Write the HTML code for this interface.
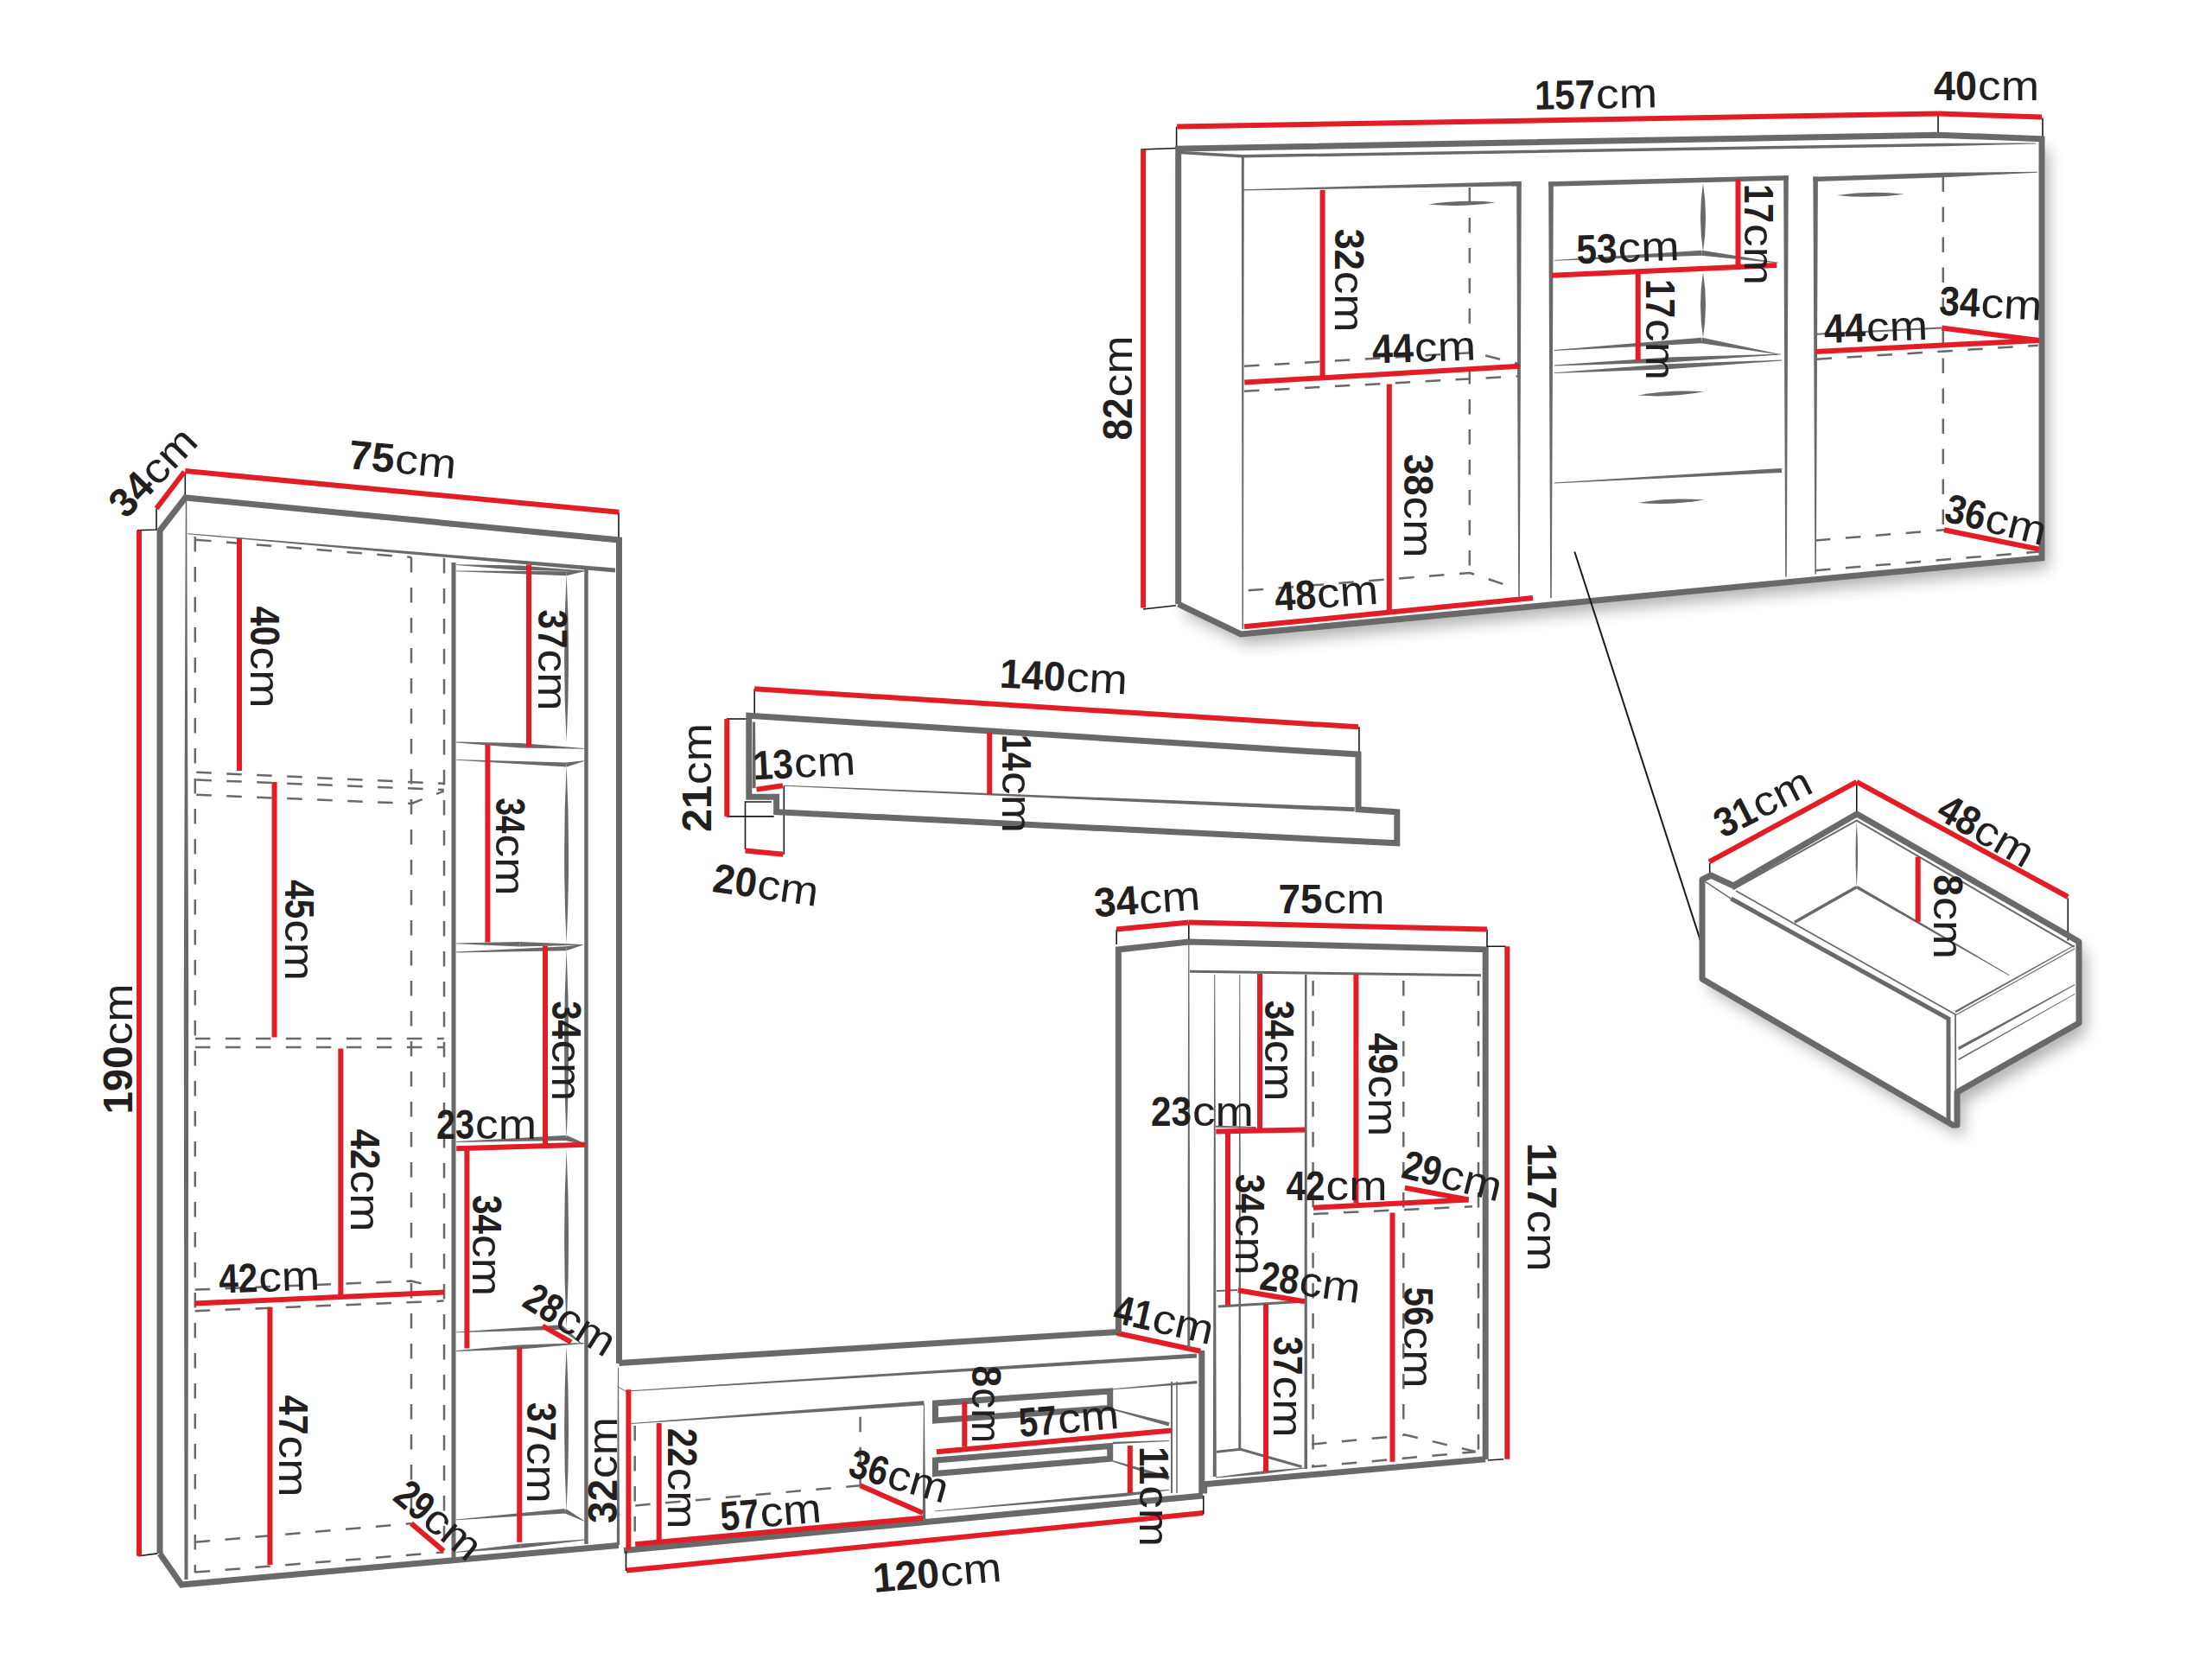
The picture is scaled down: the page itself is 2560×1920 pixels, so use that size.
<!DOCTYPE html>
<html><head><meta charset="utf-8"><style>
html,body{margin:0;padding:0;background:#fff;}
svg{display:block}
text{font-family:"Liberation Sans",sans-serif;fill:#231f20;}
</style></head><body>
<svg width="2560" height="1920" viewBox="0 0 2560 1920">
<rect width="2560" height="1920" fill="#fff"/>
<defs><filter id="sh" x="-20%" y="-20%" width="140%" height="140%"><feGaussianBlur stdDeviation="9"/></filter></defs>
<polygon points="1363.7,172.1 2243.0,156.2 2363.0,160.8 2363.0,645.7 1436.0,734.0 1363.7,699.2" transform="translate(8,12)" fill="#000" opacity="0.3" filter="url(#sh)"/>
<polygon points="1363.7,172.1 2243.0,156.2 2363.0,160.8 2363.0,645.7 1436.0,734.0 1363.7,699.2" fill="#fff"/>
<polygon points="1970.0,1018.0 1980.0,1013.0 2006.0,1025.0 2149.0,942.0 2396.0,1084.0 2406.0,1090.0 2406.0,1184.0 2265.0,1264.0 2265.0,1302.0 2260.0,1302.0 1970.0,1133.0" transform="translate(8,12)" fill="#000" opacity="0.3" filter="url(#sh)"/>
<polygon points="1970.0,1018.0 1980.0,1013.0 2006.0,1025.0 2149.0,942.0 2396.0,1084.0 2406.0,1090.0 2406.0,1184.0 2265.0,1264.0 2265.0,1302.0 2260.0,1302.0 1970.0,1133.0" fill="#fff"/>
<polyline points="214.3,546.5 214.3,575.5" fill="none" stroke="#1a1a1a" stroke-width="1.6" stroke-linejoin="miter" stroke-miterlimit="10" />
<polyline points="716.0,593.0 716.0,622.0" fill="none" stroke="#1a1a1a" stroke-width="1.6" stroke-linejoin="miter" stroke-miterlimit="10" />
<polyline points="181.0,588.5 181.0,613.0 159.0,613.7" fill="none" stroke="#1a1a1a" stroke-width="1.6" stroke-linejoin="miter" stroke-miterlimit="10" />
<polyline points="160.5,1800.8 182.2,1797.9" fill="none" stroke="#1a1a1a" stroke-width="1.6" stroke-linejoin="miter" stroke-miterlimit="10" />
<polyline points="185.0,1798.0 185.0,614.0 214.5,576.0 716.5,625.0 716.5,1578.0" fill="none" stroke="#696969" stroke-width="7" stroke-linejoin="miter" stroke-miterlimit="10" />
<polyline points="185.0,1798.0 210.0,1834.0 716.0,1788.5" fill="none" stroke="#696969" stroke-width="7" stroke-linejoin="miter" stroke-miterlimit="10" />
<polygon points="217.0,618.2 711.8,662.5 712.2,657.5 217.0,617.2" fill="#696969"/>
<polygon points="214.8,578.0 212.8,1150.0 218.2,1150.0 216.2,578.0" fill="#696969"/>
<polygon points="212.8,1150.0 213.5,1828.0 217.5,1828.0 218.2,1150.0" fill="#696969"/>
<polyline points="225.8,621.0 225.8,1820.0" fill="none" stroke="#696969" stroke-width="2.5" stroke-linejoin="miter" stroke-miterlimit="10" stroke-dasharray="17.5 17.5" stroke-linecap="butt"/>
<polyline points="476.0,645.0 476.0,1763.0" fill="none" stroke="#696969" stroke-width="2.5" stroke-linejoin="miter" stroke-miterlimit="10" stroke-dasharray="17.5 17.5" stroke-linecap="butt"/>
<polyline points="514.0,646.0 514.0,1796.0" fill="none" stroke="#696969" stroke-width="2.5" stroke-linejoin="miter" stroke-miterlimit="10" stroke-dasharray="17.5 17.5" stroke-linecap="butt"/>
<polyline points="227.0,624.7 476.0,645.0" fill="none" stroke="#696969" stroke-width="2.5" stroke-linejoin="miter" stroke-miterlimit="10" stroke-dasharray="17.5 17.5" stroke-linecap="butt"/>
<polyline points="227.3,893.8 513.8,906.8" fill="none" stroke="#696969" stroke-width="2.5" stroke-linejoin="miter" stroke-miterlimit="10" stroke-dasharray="17.5 17.5" stroke-linecap="butt"/>
<polyline points="227.3,902.5 513.8,914.0" fill="none" stroke="#696969" stroke-width="2.5" stroke-linejoin="miter" stroke-miterlimit="10" stroke-dasharray="17.5 17.5" stroke-linecap="butt"/>
<polyline points="227.3,919.8 476.2,930.0 513.8,915.5" fill="none" stroke="#696969" stroke-width="2.5" stroke-linejoin="miter" stroke-miterlimit="10" stroke-dasharray="17.5 17.5" stroke-linecap="butt"/>
<polyline points="225.9,1201.9 513.8,1201.9" fill="none" stroke="#696969" stroke-width="2.5" stroke-linejoin="miter" stroke-miterlimit="10" stroke-dasharray="17.5 17.5" stroke-linecap="butt"/>
<polyline points="225.9,1212.0 513.8,1212.0" fill="none" stroke="#696969" stroke-width="2.5" stroke-linejoin="miter" stroke-miterlimit="10" stroke-dasharray="17.5 17.5" stroke-linecap="butt"/>
<polyline points="225.6,1492.6 476.0,1482.5 487.5,1485.4" fill="none" stroke="#696969" stroke-width="2.5" stroke-linejoin="miter" stroke-miterlimit="10" stroke-dasharray="17.5 17.5" stroke-linecap="butt"/>
<polyline points="225.6,1517.2 513.5,1505.6" fill="none" stroke="#696969" stroke-width="2.5" stroke-linejoin="miter" stroke-miterlimit="10" stroke-dasharray="17.5 17.5" stroke-linecap="butt"/>
<polyline points="225.6,1784.8 476.0,1763.1" fill="none" stroke="#696969" stroke-width="2.5" stroke-linejoin="miter" stroke-miterlimit="10" stroke-dasharray="17.5 17.5" stroke-linecap="butt"/>
<polyline points="225.6,1819.6 513.5,1796.4" fill="none" stroke="#696969" stroke-width="2.5" stroke-linejoin="miter" stroke-miterlimit="10" stroke-dasharray="17.5 17.5" stroke-linecap="butt"/>
<polyline points="525.0,651.0 525.0,1806.0" fill="none" stroke="#696969" stroke-width="5" stroke-linejoin="miter" stroke-miterlimit="10" />
<polyline points="678.5,659.0 678.5,1787.0" fill="none" stroke="#696969" stroke-width="4.5" stroke-linejoin="miter" stroke-miterlimit="10" />
<path d="M655.6,664.0 Q650.6,761.5 655.6,859.0 Q660.6,761.5 655.6,664.0Z" fill="#696969"/>
<path d="M655.6,885.0 Q650.6,988.5 655.6,1092.0 Q660.6,988.5 655.6,885.0Z" fill="#696969"/>
<path d="M655.6,1098.0 Q650.6,1208.0 655.6,1318.0 Q660.6,1208.0 655.6,1098.0Z" fill="#696969"/>
<path d="M655.6,1330.0 Q650.6,1433.5 655.6,1537.0 Q660.6,1433.5 655.6,1330.0Z" fill="#696969"/>
<path d="M655.6,1557.0 Q650.6,1653.0 655.6,1749.0 Q660.6,1653.0 655.6,1557.0Z" fill="#696969"/>
<polygon points="528.0,654.0 601.9,659.9 602.1,654.5 528.0,653.2" fill="#696969"/>
<polygon points="601.9,659.9 676.0,661.2 676.0,660.4 602.1,654.5" fill="#696969"/>
<polygon points="528.0,661.2 655.5,666.2 655.7,661.2 528.0,660.4" fill="#696969"/>
<polygon points="656.0,666.2 676.1,661.2 675.9,660.4 655.2,661.2" fill="#696969"/>
<polygon points="528.2,859.4 601.9,865.4 602.1,859.9 528.2,858.6" fill="#696969"/>
<polygon points="601.9,865.4 675.8,866.7 675.8,865.9 602.1,859.9" fill="#696969"/>
<polygon points="528.2,879.7 655.5,887.5 655.7,882.5 528.2,878.9" fill="#696969"/>
<polygon points="656.1,887.4 675.9,881.1 675.7,880.3 655.1,882.6" fill="#696969"/>
<polygon points="528.2,1092.3 601.3,1095.4 601.3,1089.9 528.2,1091.5" fill="#696969"/>
<polygon points="601.3,1095.4 674.4,1093.8 674.4,1093.0 601.3,1089.9" fill="#696969"/>
<polygon points="528.2,1102.4 655.7,1100.2 655.5,1095.2 528.2,1101.6" fill="#696969"/>
<polygon points="656.2,1100.1 674.5,1093.8 674.3,1093.0 655.0,1095.3" fill="#696969"/>
<polygon points="528.2,1322.0 655.1,1320.0 654.9,1314.0 528.2,1321.0" fill="#696969"/>
<polygon points="654.1,1319.9 676.8,1324.5 677.2,1323.5 655.9,1314.1" fill="#696969"/>
<polygon points="528.0,1542.2 649.6,1538.7 649.4,1533.3 528.0,1541.4" fill="#696969"/>
<polygon points="647.8,1538.1 673.7,1556.3 674.3,1555.7 651.2,1533.9" fill="#696969"/>
<polygon points="528.0,1563.9 602.2,1561.5 601.8,1556.5 528.0,1563.1" fill="#696969"/>
<polygon points="602.2,1561.5 676.0,1554.9 676.0,1554.1 601.8,1556.5" fill="#696969"/>
<polygon points="528.0,1759.2 654.1,1751.4 653.7,1746.0 528.0,1758.4" fill="#696969"/>
<polygon points="652.6,1751.1 675.4,1760.6 675.8,1759.8 655.2,1746.3" fill="#696969"/>
<polygon points="528.0,1796.8 602.7,1791.7 602.3,1786.7 528.0,1796.0" fill="#696969"/>
<polygon points="602.7,1791.7 677.0,1782.4 677.0,1781.6 602.3,1786.7" fill="#696969"/>
<line x1="214.3" y1="545.1" x2="716.3" y2="592.8" stroke="#e21d25" stroke-width="6"/>
<line x1="181" y1="588.5" x2="213.4" y2="546" stroke="#e21d25" stroke-width="6"/>
<line x1="161" y1="613.7" x2="161" y2="1800.8" stroke="#e21d25" stroke-width="6"/>
<line x1="277" y1="623" x2="277" y2="892" stroke="#e21d25" stroke-width="6"/>
<line x1="317.6" y1="905" x2="317.6" y2="1200.4" stroke="#e21d25" stroke-width="6"/>
<line x1="394.3" y1="1213.4" x2="394.3" y2="1498.4" stroke="#e21d25" stroke-width="6"/>
<line x1="312.4" y1="1512.8" x2="312.4" y2="1810.9" stroke="#e21d25" stroke-width="6"/>
<line x1="225.6" y1="1508.5" x2="513.5" y2="1495.5" stroke="#e21d25" stroke-width="6"/>
<line x1="475.9" y1="1763.1" x2="513.5" y2="1795" stroke="#e21d25" stroke-width="6"/>
<line x1="612" y1="653.6" x2="612" y2="864.8" stroke="#e21d25" stroke-width="6"/>
<line x1="564.4" y1="862" x2="564.4" y2="1090.5" stroke="#e21d25" stroke-width="6"/>
<line x1="631" y1="1094.8" x2="631" y2="1324.8" stroke="#e21d25" stroke-width="6"/>
<line x1="540.4" y1="1329" x2="540.4" y2="1560.6" stroke="#e21d25" stroke-width="6"/>
<line x1="601.2" y1="1559" x2="601.2" y2="1784.8" stroke="#e21d25" stroke-width="6"/>
<line x1="528.2" y1="1329.2" x2="677.3" y2="1324.8" stroke="#e21d25" stroke-width="6"/>
<line x1="627.8" y1="1534.5" x2="661" y2="1553.4" stroke="#e21d25" stroke-width="6"/>
<polyline points="716.4,1577.4 1294.0,1541.5" fill="none" stroke="#696969" stroke-width="7" stroke-linejoin="miter" stroke-miterlimit="10" />
<polygon points="715.0,1583.0 713.8,1788.0 717.2,1788.0 716.0,1583.0" fill="#696969"/>
<polyline points="722.0,1794.5 1392.2,1731.0" fill="none" stroke="#696969" stroke-width="7" stroke-linejoin="miter" stroke-miterlimit="10" />
<polyline points="714.6,1604.8 724.0,1610.0" fill="none" stroke="#696969" stroke-width="1" stroke-linejoin="miter" stroke-miterlimit="10" />
<polygon points="724.0,1610.5 1385.2,1571.5 1384.8,1566.5 724.0,1609.5" fill="#696969"/>
<polyline points="1390.8,1563.0 1390.8,1725.0 1393.7,1725.0 1393.7,1717.8" fill="none" stroke="#696969" stroke-width="7" stroke-linejoin="miter" stroke-miterlimit="10" />
<polygon points="730.5,1648.0 1069.6,1626.2 1069.2,1621.2 730.5,1647.0" fill="#696969"/>
<polyline points="734.7,1650.0 734.7,1785.0" fill="none" stroke="#696969" stroke-width="2.5" stroke-linejoin="miter" stroke-miterlimit="10" stroke-dasharray="17.5 17.5" stroke-linecap="butt"/>
<polyline points="735.2,1742.4 995.6,1719.2" fill="none" stroke="#696969" stroke-width="2.5" stroke-linejoin="miter" stroke-miterlimit="10" stroke-dasharray="17.5 17.5" stroke-linecap="butt"/>
<polyline points="995.6,1639.7 995.6,1719.2" fill="none" stroke="#696969" stroke-width="2.5" stroke-linejoin="miter" stroke-miterlimit="10" stroke-dasharray="17.5 17.5" stroke-linecap="butt"/>
<polygon points="1068.9,1625.0 1067.7,1758.0 1071.2,1758.0 1069.9,1625.0" fill="#696969"/>
<polygon points="1082.5,1624.0 1284.7,1610.0 1284.7,1629.5 1082.5,1644.0" fill="none" stroke="#696969" stroke-width="7" stroke-linejoin="miter" stroke-miterlimit="10" />
<polygon points="1082.5,1690.0 1284.7,1673.5 1284.7,1688.3 1082.5,1705.5" fill="none" stroke="#696969" stroke-width="7" stroke-linejoin="miter" stroke-miterlimit="10" />
<polygon points="1288.0,1608.2 1385.6,1601.3 1385.4,1597.9 1288.0,1607.2" fill="#696969"/>
<polygon points="1287.8,1631.7 1352.4,1650.6 1353.6,1646.2 1288.2,1630.3" fill="#696969"/>
<polygon points="1288.0,1671.2 1353.0,1667.9 1353.0,1666.9 1288.0,1668.8" fill="#696969"/>
<polygon points="1287.8,1691.7 1352.3,1713.0 1353.7,1708.6 1288.2,1690.3" fill="#696969"/>
<polyline points="1356.0,1599.0 1356.0,1728.0" fill="none" stroke="#696969" stroke-width="2" stroke-linejoin="miter" stroke-miterlimit="10" />
<polyline points="1362.0,1599.0 1362.0,1728.0" fill="none" stroke="#696969" stroke-width="1.5" stroke-linejoin="miter" stroke-miterlimit="10" />
<polygon points="1081.7,1749.2 1300.2,1732.0 1299.8,1728.0 1081.7,1748.4" fill="#696969"/>
<polygon points="1300.2,1732.0 1353.1,1724.8 1352.9,1723.8 1299.8,1728.0" fill="#696969"/>
<line x1="727.4" y1="1608.3" x2="727.4" y2="1793.5" stroke="#e21d25" stroke-width="6"/>
<line x1="725" y1="1817.6" x2="1392.2" y2="1751" stroke="#e21d25" stroke-width="6"/>
<polyline points="724.5,1795.0 724.5,1818.0" fill="none" stroke="#1a1a1a" stroke-width="1.6" stroke-linejoin="miter" stroke-miterlimit="10" />
<polyline points="1392.8,1731.0 1392.8,1752.5" fill="none" stroke="#1a1a1a" stroke-width="1.6" stroke-linejoin="miter" stroke-miterlimit="10" />
<line x1="1292.4" y1="1542.7" x2="1389.4" y2="1563.8" stroke="#e21d25" stroke-width="6"/>
<line x1="762.7" y1="1646.9" x2="762.7" y2="1782.9" stroke="#e21d25" stroke-width="6"/>
<line x1="735.2" y1="1787.2" x2="1068" y2="1756.8" stroke="#e21d25" stroke-width="6"/>
<line x1="995.6" y1="1719.2" x2="1068" y2="1751" stroke="#e21d25" stroke-width="6"/>
<line x1="1116.3" y1="1622.3" x2="1116.3" y2="1674.4" stroke="#e21d25" stroke-width="6"/>
<line x1="1083.9" y1="1680.2" x2="1356" y2="1655.6" stroke="#e21d25" stroke-width="6"/>
<line x1="1307.8" y1="1673" x2="1307.8" y2="1728" stroke="#e21d25" stroke-width="6"/>
<polyline points="1294.4,1542.7 1294.4,1099.0 1375.8,1090.0 1719.2,1098.8 1719.2,1689.0" fill="none" stroke="#696969" stroke-width="7" stroke-linejoin="miter" stroke-miterlimit="10" />
<polyline points="1393.7,1717.8 1719.2,1688.8" fill="none" stroke="#696969" stroke-width="7" stroke-linejoin="miter" stroke-miterlimit="10" />
<polyline points="1292.2,1075.6 1292.2,1093.0" fill="none" stroke="#1a1a1a" stroke-width="1.6" stroke-linejoin="miter" stroke-miterlimit="10" />
<polyline points="1375.8,1067.5 1375.8,1087.0" fill="none" stroke="#1a1a1a" stroke-width="1.6" stroke-linejoin="miter" stroke-miterlimit="10" />
<polyline points="1721.0,1075.6 1721.0,1095.3 1742.7,1095.3" fill="none" stroke="#1a1a1a" stroke-width="1.6" stroke-linejoin="miter" stroke-miterlimit="10" />
<polyline points="1722.0,1690.0 1740.0,1688.8" fill="none" stroke="#1a1a1a" stroke-width="1.6" stroke-linejoin="miter" stroke-miterlimit="10" />
<polygon points="1375.2,1092.0 1374.3,1560.0 1377.3,1560.0 1376.4,1092.0" fill="#696969"/>
<polyline points="1377.0,1124.3 1714.0,1128.7" fill="none" stroke="#696969" stroke-width="3" stroke-linejoin="miter" stroke-miterlimit="10" />
<polygon points="1405.3,1128.0 1403.8,1709.0 1407.8,1709.0 1406.3,1128.0" fill="#696969"/>
<polygon points="1434.3,1128.0 1433.3,1677.0 1436.3,1677.0 1435.3,1128.0" fill="#696969"/>
<polygon points="1510.0,1128.0 1509.5,1700.0 1513.0,1700.0 1512.5,1128.0" fill="#696969"/>
<polyline points="1519.6,1135.0 1519.6,1697.0" fill="none" stroke="#696969" stroke-width="2.5" stroke-linejoin="miter" stroke-miterlimit="10" stroke-dasharray="17.5 17.5" stroke-linecap="butt"/>
<polyline points="1624.3,1135.0 1624.3,1662.0" fill="none" stroke="#696969" stroke-width="2.5" stroke-linejoin="miter" stroke-miterlimit="10" stroke-dasharray="17.5 17.5" stroke-linecap="butt"/>
<polyline points="1711.0,1135.0 1711.0,1680.0" fill="none" stroke="#696969" stroke-width="2.5" stroke-linejoin="miter" stroke-miterlimit="10" stroke-dasharray="17.5 17.5" stroke-linecap="butt"/>
<polyline points="1407.0,1303.7 1453.6,1305.0" fill="none" stroke="#696969" stroke-width="2" stroke-linejoin="miter" stroke-miterlimit="10" />
<polyline points="1410.0,1512.0 1508.6,1506.3" fill="none" stroke="#696969" stroke-width="3" stroke-linejoin="miter" stroke-miterlimit="10" />
<polyline points="1408.0,1494.0 1432.0,1493.0" fill="none" stroke="#696969" stroke-width="2" stroke-linejoin="miter" stroke-miterlimit="10" />
<polyline points="1408.0,1680.2 1435.6,1677.3 1506.5,1697.5" fill="none" stroke="#696969" stroke-width="3" stroke-linejoin="miter" stroke-miterlimit="10" />
<polygon points="1407.0,1710.4 1458.7,1706.2 1458.3,1702.8 1407.0,1709.6" fill="#696969"/>
<polygon points="1458.7,1706.2 1510.0,1699.4 1510.0,1698.6 1458.3,1702.8" fill="#696969"/>
<polyline points="1520.0,1405.0 1704.0,1396.3" fill="none" stroke="#696969" stroke-width="2.5" stroke-linejoin="miter" stroke-miterlimit="10" stroke-dasharray="17.5 17.5" stroke-linecap="butt"/>
<polyline points="1518.0,1671.5 1609.3,1662.8" fill="none" stroke="#696969" stroke-width="2.5" stroke-linejoin="miter" stroke-miterlimit="10" stroke-dasharray="17.5 17.5" stroke-linecap="butt"/>
<polyline points="1518.0,1697.5 1707.6,1680.2" fill="none" stroke="#696969" stroke-width="2.5" stroke-linejoin="miter" stroke-miterlimit="10" stroke-dasharray="17.5 17.5" stroke-linecap="butt"/>
<polyline points="1623.7,1660.0 1707.6,1680.0" fill="none" stroke="#696969" stroke-width="2.5" stroke-linejoin="miter" stroke-miterlimit="10" stroke-dasharray="17.5 17.5" stroke-linecap="butt"/>
<line x1="1292.2" y1="1075.6" x2="1375.8" y2="1067.5" stroke="#e21d25" stroke-width="6"/>
<line x1="1375.8" y1="1067.5" x2="1721" y2="1075.6" stroke="#e21d25" stroke-width="6"/>
<line x1="1744.3" y1="1095.3" x2="1744.3" y2="1688.8" stroke="#e21d25" stroke-width="6"/>
<line x1="1458" y1="1127" x2="1458" y2="1306.6" stroke="#e21d25" stroke-width="6"/>
<line x1="1407.3" y1="1309.5" x2="1510" y2="1307.5" stroke="#e21d25" stroke-width="6"/>
<line x1="1421" y1="1311" x2="1421" y2="1510.6" stroke="#e21d25" stroke-width="6"/>
<line x1="1569.4" y1="1127" x2="1569.4" y2="1392" stroke="#e21d25" stroke-width="6"/>
<line x1="1520" y1="1397.8" x2="1699.6" y2="1388.5" stroke="#e21d25" stroke-width="6"/>
<line x1="1625.8" y1="1374.6" x2="1699.6" y2="1388.5" stroke="#e21d25" stroke-width="6"/>
<line x1="1611.5" y1="1403.6" x2="1611.5" y2="1691.7" stroke="#e21d25" stroke-width="6"/>
<line x1="1432.8" y1="1493.3" x2="1510" y2="1506.3" stroke="#e21d25" stroke-width="6"/>
<line x1="1465" y1="1509" x2="1465" y2="1703.3" stroke="#e21d25" stroke-width="6"/>
<polyline points="873.2,797.3 873.2,826.8" fill="none" stroke="#1a1a1a" stroke-width="1.6" stroke-linejoin="miter" stroke-miterlimit="10" />
<polyline points="1572.9,841.3 1572.9,871.7" fill="none" stroke="#1a1a1a" stroke-width="1.6" stroke-linejoin="miter" stroke-miterlimit="10" />
<polyline points="840.8,832.0 866.8,832.0" fill="none" stroke="#1a1a1a" stroke-width="1.6" stroke-linejoin="miter" stroke-miterlimit="10" />
<polyline points="840.8,944.9 895.7,944.9" fill="none" stroke="#1a1a1a" stroke-width="1.6" stroke-linejoin="miter" stroke-miterlimit="10" />
<polyline points="907.3,909.3 907.3,988.8" fill="none" stroke="#1a1a1a" stroke-width="1.6" stroke-linejoin="miter" stroke-miterlimit="10" />
<polyline points="862.5,983.0 862.5,928.0 892.8,928.0" fill="none" stroke="#1a1a1a" stroke-width="1.6" stroke-linejoin="miter" stroke-miterlimit="10" />
<polygon points="866.8,828.3 1572.0,873.1 1572.0,936.8 1616.8,939.7 1616.8,975.8 898.6,939.7 898.6,922.3 866.8,922.3" fill="none" stroke="#696969" stroke-width="7" stroke-linejoin="miter" stroke-miterlimit="10" />
<polygon points="871.1,835.5 870.6,912.2 874.6,912.2 874.1,835.5" fill="#696969"/>
<polygon points="907.0,909.8 1567.6,939.3 1567.8,934.3 907.0,908.8" fill="#696969"/>
<line x1="873.2" y1="797.3" x2="1572" y2="841.3" stroke="#e21d25" stroke-width="6"/>
<line x1="841.3" y1="832" x2="841.3" y2="944.9" stroke="#e21d25" stroke-width="6"/>
<line x1="875.5" y1="913.6" x2="905.9" y2="909.3" stroke="#e21d25" stroke-width="6"/>
<line x1="862.5" y1="984.5" x2="906.4" y2="988.8" stroke="#e21d25" stroke-width="6"/>
<line x1="1145.2" y1="847.6" x2="1145.2" y2="919.4" stroke="#e21d25" stroke-width="6"/>
<polyline points="1361.6,146.6 1361.6,172.0" fill="none" stroke="#1a1a1a" stroke-width="1.6" stroke-linejoin="miter" stroke-miterlimit="10" />
<polyline points="2243.0,131.5 2243.0,156.7" fill="none" stroke="#1a1a1a" stroke-width="1.6" stroke-linejoin="miter" stroke-miterlimit="10" />
<polyline points="2364.0,136.4 2364.0,159.6" fill="none" stroke="#1a1a1a" stroke-width="1.6" stroke-linejoin="miter" stroke-miterlimit="10" />
<polyline points="1320.3,173.0 1361.6,171.5" fill="none" stroke="#1a1a1a" stroke-width="1.6" stroke-linejoin="miter" stroke-miterlimit="10" />
<polyline points="1323.0,705.0 1360.8,700.7" fill="none" stroke="#1a1a1a" stroke-width="1.6" stroke-linejoin="miter" stroke-miterlimit="10" />
<polyline points="1363.7,699.2 1363.7,172.1 2243.0,156.2 2363.0,160.8 2363.0,645.7 1436.0,734.0 1363.7,699.2" fill="none" stroke="#696969" stroke-width="7" stroke-linejoin="miter" stroke-miterlimit="10" />
<polyline points="1366.5,176.4 1437.4,180.8 2250.0,167.5" fill="none" stroke="#696969" stroke-width="3.5" stroke-linejoin="miter" stroke-miterlimit="10" />
<polygon points="2250.0,169.2 2356.0,166.5 2356.0,165.5 2250.0,165.8" fill="#696969"/>
<polygon points="1436.8,180.8 1437.5,728.0 1439.0,728.0 1439.8,180.8" fill="#696969"/>
<polygon points="1438.9,220.4 1756.1,215.3 1755.9,209.9 1438.9,219.2" fill="#696969"/>
<polyline points="1750.0,212.7 1758.0,212.6 1758.0,215.0" fill="none" stroke="#696969" stroke-width="5.5" stroke-linejoin="miter" stroke-miterlimit="10" />
<polygon points="1755.2,213.0 1757.2,690.5 1758.8,690.5 1760.8,213.0" fill="#696969"/>
<path d="M1653.0,236.6 Q1692.1,240.4 1731.0,234.3 Q1691.9,230.5 1653.0,236.6Z" fill="#696969"/>
<polyline points="1700.8,217.0 1700.8,661.6" fill="none" stroke="#696969" stroke-width="2.5" stroke-linejoin="miter" stroke-miterlimit="10" stroke-dasharray="17.5 17.5" stroke-linecap="butt"/>
<polyline points="1440.0,423.8 1705.0,408.0 1757.0,421.0" fill="none" stroke="#696969" stroke-width="2.5" stroke-linejoin="miter" stroke-miterlimit="10" stroke-dasharray="17.5 17.5" stroke-linecap="butt"/>
<polyline points="1440.0,452.8 1757.0,435.4" fill="none" stroke="#696969" stroke-width="2.5" stroke-linejoin="miter" stroke-miterlimit="10" stroke-dasharray="17.5 17.5" stroke-linecap="butt"/>
<polyline points="1444.7,683.3 1700.8,663.0 1739.8,676.0" fill="none" stroke="#696969" stroke-width="2.5" stroke-linejoin="miter" stroke-miterlimit="10" stroke-dasharray="17.5 17.5" stroke-linecap="butt"/>
<polyline points="1795.0,215.0 1795.0,213.0 2067.0,205.9 2067.0,208.0" fill="none" stroke="#696969" stroke-width="5.5" stroke-linejoin="miter" stroke-miterlimit="10" />
<polygon points="1792.2,210.5 1794.2,692.0 1795.8,692.0 1797.8,210.5" fill="#696969"/>
<polygon points="2064.2,203.5 2066.2,667.4 2067.8,667.4 2069.8,203.5" fill="#696969"/>
<path d="M1971.0,212.0 Q1965.0,251.5 1971.0,291.0 Q1977.0,251.5 1971.0,212.0Z" fill="#696969"/>
<path d="M1971.0,315.0 Q1965.0,353.0 1971.0,391.0 Q1977.0,353.0 1971.0,315.0Z" fill="#696969"/>
<polygon points="1798.8,301.8 1969.7,295.7 1969.3,289.7 1798.8,301.0" fill="#696969"/>
<polygon points="1969.1,295.7 2057.7,304.6 2057.9,303.8 1969.9,289.7" fill="#696969"/>
<polygon points="1798.8,405.9 1969.7,397.2 1969.3,390.8 1798.8,405.1" fill="#696969"/>
<polygon points="1968.9,397.2 2057.7,410.3 2057.9,409.5 1970.1,390.8" fill="#696969"/>
<polygon points="1798.8,423.4 1929.9,419.5 1929.6,413.5 1798.8,422.6" fill="#696969"/>
<polygon points="1929.9,419.5 2060.7,410.4 2060.7,409.6 1929.6,413.5" fill="#696969"/>
<polygon points="1798.8,432.0 1930.6,427.3 1930.2,421.3 1798.8,431.2" fill="#696969"/>
<polygon points="1930.6,427.3 2062.0,417.4 2062.0,416.6 1930.2,421.3" fill="#696969"/>
<path d="M1895.7,457.6 Q1934.3,460.4 1972.4,453.3 Q1933.8,450.5 1895.7,457.6Z" fill="#696969"/>
<polygon points="1798.8,559.5 2062.1,546.9 2061.9,541.9 1798.8,558.5" fill="#696969"/>
<path d="M1895.7,582.0 Q1934.3,585.3 1972.4,578.6 Q1933.8,575.3 1895.7,582.0Z" fill="#696969"/>
<polyline points="2101.2,210.0 2101.2,207.3 2250.0,202.5" fill="none" stroke="#696969" stroke-width="5.5" stroke-linejoin="miter" stroke-miterlimit="10" />
<polygon points="2098.4,204.6 2100.4,664.5 2101.9,664.5 2103.9,204.6" fill="#696969"/>
<polygon points="2250.1,205.2 2357.7,199.7 2357.7,198.7 2249.9,199.8" fill="#696969"/>
<path d="M2125.8,226.0 Q2164.9,230.3 2203.9,224.7 Q2164.8,220.4 2125.8,226.0Z" fill="#696969"/>
<polyline points="2248.8,204.4 2248.8,611.0" fill="none" stroke="#696969" stroke-width="2.5" stroke-linejoin="miter" stroke-miterlimit="10" stroke-dasharray="17.5 17.5" stroke-linecap="butt"/>
<polyline points="2102.0,386.7 2247.0,379.5" fill="none" stroke="#696969" stroke-width="2" stroke-linejoin="miter" stroke-miterlimit="10" />
<polyline points="2102.6,415.7 2358.7,399.7" fill="none" stroke="#696969" stroke-width="2.5" stroke-linejoin="miter" stroke-miterlimit="10" stroke-dasharray="17.5 17.5" stroke-linecap="butt"/>
<polyline points="2101.0,625.4 2250.0,613.3" fill="none" stroke="#696969" stroke-width="2.5" stroke-linejoin="miter" stroke-miterlimit="10" stroke-dasharray="17.5 17.5" stroke-linecap="butt"/>
<polyline points="2101.0,660.2 2360.0,638.5" fill="none" stroke="#696969" stroke-width="2.5" stroke-linejoin="miter" stroke-miterlimit="10" stroke-dasharray="17.5 17.5" stroke-linecap="butt"/>
<line x1="1362.2" y1="146.6" x2="2243" y2="131.5" stroke="#e21d25" stroke-width="6"/>
<line x1="2243" y1="131.5" x2="2363" y2="135.6" stroke="#e21d25" stroke-width="6"/>
<line x1="1323.1" y1="173" x2="1323.1" y2="703.6" stroke="#e21d25" stroke-width="6"/>
<line x1="1530.6" y1="219.8" x2="1530.6" y2="435.4" stroke="#e21d25" stroke-width="6"/>
<line x1="1440.3" y1="442.6" x2="1758.6" y2="423.8" stroke="#e21d25" stroke-width="6"/>
<line x1="1607.8" y1="444.6" x2="1607.8" y2="706.5" stroke="#e21d25" stroke-width="6"/>
<line x1="1440" y1="725.3" x2="1774" y2="692" stroke="#e21d25" stroke-width="6"/>
<line x1="1796" y1="318.7" x2="2056.3" y2="307" stroke="#e21d25" stroke-width="6"/>
<line x1="2011.5" y1="207.3" x2="2011.5" y2="307" stroke="#e21d25" stroke-width="6"/>
<line x1="1895.7" y1="315.8" x2="1895.7" y2="417" stroke="#e21d25" stroke-width="6"/>
<line x1="2101.2" y1="407" x2="2360" y2="394" stroke="#e21d25" stroke-width="6"/>
<line x1="2247.3" y1="379.5" x2="2360" y2="394" stroke="#e21d25" stroke-width="6"/>
<line x1="2250" y1="613.3" x2="2360" y2="635.6" stroke="#e21d25" stroke-width="6"/>
<polyline points="1822.3,638.5 1968.0,1088.6" fill="none" stroke="#1a1a1a" stroke-width="2" stroke-linejoin="miter" stroke-miterlimit="10" />
<polyline points="1978.7,999.0 1978.7,1013.4" fill="none" stroke="#1a1a1a" stroke-width="1.6" stroke-linejoin="miter" stroke-miterlimit="10" />
<polyline points="2148.8,906.3 2148.8,942.5" fill="none" stroke="#1a1a1a" stroke-width="1.6" stroke-linejoin="miter" stroke-miterlimit="10" />
<polyline points="2393.3,1039.4 2393.3,1088.6" fill="none" stroke="#1a1a1a" stroke-width="1.6" stroke-linejoin="miter" stroke-miterlimit="10" />
<polygon points="1970.0,1018.0 1980.0,1013.0 2006.0,1025.0 2149.0,942.0 2396.0,1084.0 2406.0,1090.0 2406.0,1184.0 2265.0,1264.0 2265.0,1302.0 2260.0,1302.0 1970.0,1133.0" fill="none" stroke="#696969" stroke-width="7" stroke-linejoin="round" stroke-miterlimit="10" />
<polyline points="1974.0,1020.5 2003.4,1040.0" fill="none" stroke="#696969" stroke-width="1.5" stroke-linejoin="miter" stroke-miterlimit="10" />
<polyline points="2003.4,1040.0 2255.0,1179.0 2255.0,1297.0" fill="none" stroke="#696969" stroke-width="5" stroke-linejoin="miter" stroke-miterlimit="10" />
<polyline points="2009.0,1031.0 2263.0,1174.0 2263.5,1288.0" fill="none" stroke="#696969" stroke-width="1.8" stroke-linejoin="miter" stroke-miterlimit="10" />
<polyline points="2005.6,1029.3 2148.8,949.7 2400.6,1095.8" fill="none" stroke="#696969" stroke-width="2" stroke-linejoin="miter" stroke-miterlimit="10" />
<polygon points="2077.9,1068.8 2149.7,1027.9 2147.9,1024.9 2076.1,1065.8" fill="#696969"/>
<polygon points="2147.9,1027.9 2325.0,1129.0 2325.6,1128.2 2149.7,1024.9" fill="#696969"/>
<path d="M2148.8,950.0 Q2146.3,988.0 2148.8,1026.0 Q2151.3,988.0 2148.8,950.0Z" fill="#696969"/>
<polygon points="2263.6,1172.1 2401.2,1094.4 2400.8,1093.6 2262.4,1169.9" fill="#696969"/>
<polyline points="2263.0,1175.0 2401.0,1098.0" fill="none" stroke="#696969" stroke-width="1.2" stroke-linejoin="miter" stroke-miterlimit="10" />
<polygon points="2267.4,1215.1 2401.5,1139.9 2401.1,1139.1 2265.8,1212.1" fill="#696969"/>
<polygon points="2267.0,1227.0 2401.5,1150.7 2401.1,1149.9 2266.2,1225.6" fill="#696969"/>
<line x1="1978.1" y1="997.4" x2="2148.8" y2="904.8" stroke="#e21d25" stroke-width="6"/>
<line x1="2148.8" y1="904.8" x2="2393.3" y2="1038" stroke="#e21d25" stroke-width="6"/>
<line x1="2219.7" y1="991.7" x2="2219.7" y2="1066.9" stroke="#e21d25" stroke-width="6"/>
<g transform="translate(466.0,532.5) rotate(5.5)"><text x="-62.5" y="15.5" font-size="47.4" font-weight="bold" textLength="53.0" lengthAdjust="spacingAndGlyphs">75</text><text x="-8.5" y="15.5" font-size="48.3" textLength="71.0" lengthAdjust="spacingAndGlyphs">cm</text></g>
<g transform="translate(177.4,546.7) rotate(-46)"><text x="-61.5" y="15.5" font-size="47.4" font-weight="bold" textLength="51.0" lengthAdjust="spacingAndGlyphs">34</text><text x="-9.5" y="15.5" font-size="48.3" textLength="71.0" lengthAdjust="spacingAndGlyphs">cm</text></g>
<g transform="translate(137.4,1214.0) rotate(-90)"><text x="-75.5" y="15.5" font-size="47.4" font-weight="bold" textLength="79.0" lengthAdjust="spacingAndGlyphs">190</text><text x="4.5" y="15.5" font-size="48.3" textLength="71.0" lengthAdjust="spacingAndGlyphs">cm</text></g>
<g transform="translate(305.4,760.6) rotate(90)"><text x="-59.0" y="15.5" font-size="47.4" font-weight="bold" textLength="46.0" lengthAdjust="spacingAndGlyphs">40</text><text x="-12.0" y="15.5" font-size="48.3" textLength="71.0" lengthAdjust="spacingAndGlyphs">cm</text></g>
<g transform="translate(345.0,1076.7) rotate(90)"><text x="-58.5" y="15.5" font-size="47.4" font-weight="bold" textLength="45.0" lengthAdjust="spacingAndGlyphs">45</text><text x="-12.5" y="15.5" font-size="48.3" textLength="71.0" lengthAdjust="spacingAndGlyphs">cm</text></g>
<g transform="translate(421.0,1366.0) rotate(90)"><text x="-59.5" y="15.5" font-size="47.4" font-weight="bold" textLength="47.0" lengthAdjust="spacingAndGlyphs">42</text><text x="-11.5" y="15.5" font-size="48.3" textLength="71.0" lengthAdjust="spacingAndGlyphs">cm</text></g>
<g transform="translate(311.6,1479.0) rotate(-2)"><text x="-58.5" y="15.5" font-size="47.4" font-weight="bold" textLength="45.0" lengthAdjust="spacingAndGlyphs">42</text><text x="-12.5" y="15.5" font-size="48.3" textLength="71.0" lengthAdjust="spacingAndGlyphs">cm</text></g>
<g transform="translate(338.5,1673.5) rotate(90)"><text x="-59.0" y="15.5" font-size="47.4" font-weight="bold" textLength="46.0" lengthAdjust="spacingAndGlyphs">47</text><text x="-12.0" y="15.5" font-size="48.3" textLength="71.0" lengthAdjust="spacingAndGlyphs">cm</text></g>
<g transform="translate(507.0,1760.0) rotate(40)"><text x="-57.5" y="15.5" font-size="47.4" font-weight="bold" textLength="43.0" lengthAdjust="spacingAndGlyphs">29</text><text x="-13.5" y="15.5" font-size="48.3" textLength="71.0" lengthAdjust="spacingAndGlyphs">cm</text></g>
<g transform="translate(638.0,764.0) rotate(90)"><text x="-58.5" y="15.5" font-size="47.4" font-weight="bold" textLength="45.0" lengthAdjust="spacingAndGlyphs">37</text><text x="-12.5" y="15.5" font-size="48.3" textLength="71.0" lengthAdjust="spacingAndGlyphs">cm</text></g>
<g transform="translate(589.0,980.0) rotate(90)"><text x="-56.5" y="15.5" font-size="47.4" font-weight="bold" textLength="41.0" lengthAdjust="spacingAndGlyphs">34</text><text x="-14.5" y="15.5" font-size="48.3" textLength="71.0" lengthAdjust="spacingAndGlyphs">cm</text></g>
<g transform="translate(654.0,1216.4) rotate(90)"><text x="-58.0" y="15.5" font-size="47.4" font-weight="bold" textLength="44.0" lengthAdjust="spacingAndGlyphs">34</text><text x="-13.0" y="15.5" font-size="48.3" textLength="71.0" lengthAdjust="spacingAndGlyphs">cm</text></g>
<g transform="translate(563.0,1302.0) rotate(0)"><text x="-58.0" y="15.5" font-size="47.4" font-weight="bold" textLength="44.0" lengthAdjust="spacingAndGlyphs">23</text><text x="-13.0" y="15.5" font-size="48.3" textLength="71.0" lengthAdjust="spacingAndGlyphs">cm</text></g>
<g transform="translate(562.8,1441.5) rotate(90)"><text x="-58.5" y="15.5" font-size="47.4" font-weight="bold" textLength="45.0" lengthAdjust="spacingAndGlyphs">34</text><text x="-12.5" y="15.5" font-size="48.3" textLength="71.0" lengthAdjust="spacingAndGlyphs">cm</text></g>
<g transform="translate(659.6,1528.0) rotate(32)"><text x="-57.5" y="15.5" font-size="47.4" font-weight="bold" textLength="43.0" lengthAdjust="spacingAndGlyphs">28</text><text x="-13.5" y="15.5" font-size="48.3" textLength="71.0" lengthAdjust="spacingAndGlyphs">cm</text></g>
<g transform="translate(625.0,1681.4) rotate(90)"><text x="-58.5" y="15.5" font-size="47.4" font-weight="bold" textLength="45.0" lengthAdjust="spacingAndGlyphs">37</text><text x="-12.5" y="15.5" font-size="48.3" textLength="71.0" lengthAdjust="spacingAndGlyphs">cm</text></g>
<g transform="translate(698.7,1701.5) rotate(-90)"><text x="-61.5" y="15.5" font-size="47.4" font-weight="bold" textLength="51.0" lengthAdjust="spacingAndGlyphs">32</text><text x="-9.5" y="15.5" font-size="48.3" textLength="71.0" lengthAdjust="spacingAndGlyphs">cm</text></g>
<g transform="translate(788.5,1711.2) rotate(90)"><text x="-58.5" y="15.5" font-size="47.4" font-weight="bold" textLength="45.0" lengthAdjust="spacingAndGlyphs">22</text><text x="-12.5" y="15.5" font-size="48.3" textLength="71.0" lengthAdjust="spacingAndGlyphs">cm</text></g>
<g transform="translate(892.0,1751.0) rotate(-5)"><text x="-58.5" y="15.5" font-size="47.4" font-weight="bold" textLength="45.0" lengthAdjust="spacingAndGlyphs">57</text><text x="-12.5" y="15.5" font-size="48.3" textLength="71.0" lengthAdjust="spacingAndGlyphs">cm</text></g>
<g transform="translate(1040.5,1709.0) rotate(16)"><text x="-58.5" y="15.5" font-size="47.4" font-weight="bold" textLength="45.0" lengthAdjust="spacingAndGlyphs">36</text><text x="-12.5" y="15.5" font-size="48.3" textLength="71.0" lengthAdjust="spacingAndGlyphs">cm</text></g>
<g transform="translate(1084.6,1821.0) rotate(-5)"><text x="-74.5" y="15.5" font-size="47.4" font-weight="bold" textLength="77.0" lengthAdjust="spacingAndGlyphs">120</text><text x="3.5" y="15.5" font-size="48.3" textLength="71.0" lengthAdjust="spacingAndGlyphs">cm</text></g>
<g transform="translate(1140.3,1625.2) rotate(90)"><text x="-45.0" y="15.5" font-size="47.4" font-weight="bold" textLength="25.0" lengthAdjust="spacingAndGlyphs">8</text><text x="-19.0" y="15.5" font-size="48.3" textLength="64.0" lengthAdjust="spacingAndGlyphs">cm</text></g>
<g transform="translate(1237.0,1642.6) rotate(-5)"><text x="-58.0" y="15.5" font-size="47.4" font-weight="bold" textLength="44.0" lengthAdjust="spacingAndGlyphs">57</text><text x="-13.0" y="15.5" font-size="48.3" textLength="71.0" lengthAdjust="spacingAndGlyphs">cm</text></g>
<g transform="translate(1334.4,1732.2) rotate(90)"><text x="-58.0" y="15.5" font-size="47.4" font-weight="bold" textLength="44.0" lengthAdjust="spacingAndGlyphs">11</text><text x="-13.0" y="15.5" font-size="48.3" textLength="71.0" lengthAdjust="spacingAndGlyphs">cm</text></g>
<g transform="translate(1347.0,1528.0) rotate(13)"><text x="-58.5" y="15.5" font-size="47.4" font-weight="bold" textLength="45.0" lengthAdjust="spacingAndGlyphs">41</text><text x="-12.5" y="15.5" font-size="48.3" textLength="71.0" lengthAdjust="spacingAndGlyphs">cm</text></g>
<g transform="translate(1327.6,1041.6) rotate(-4)"><text x="-61.5" y="15.5" font-size="47.4" font-weight="bold" textLength="51.0" lengthAdjust="spacingAndGlyphs">34</text><text x="-9.5" y="15.5" font-size="48.3" textLength="71.0" lengthAdjust="spacingAndGlyphs">cm</text></g>
<g transform="translate(1541.0,1041.0) rotate(0)"><text x="-61.5" y="15.5" font-size="47.4" font-weight="bold" textLength="51.0" lengthAdjust="spacingAndGlyphs">75</text><text x="-9.5" y="15.5" font-size="48.3" textLength="71.0" lengthAdjust="spacingAndGlyphs">cm</text></g>
<g transform="translate(1783.5,1397.0) rotate(90)"><text x="-74.5" y="15.5" font-size="47.4" font-weight="bold" textLength="77.0" lengthAdjust="spacingAndGlyphs">117</text><text x="3.5" y="15.5" font-size="48.3" textLength="71.0" lengthAdjust="spacingAndGlyphs">cm</text></g>
<g transform="translate(1479.6,1216.2) rotate(90)"><text x="-58.5" y="15.5" font-size="47.4" font-weight="bold" textLength="45.0" lengthAdjust="spacingAndGlyphs">34</text><text x="-12.5" y="15.5" font-size="48.3" textLength="71.0" lengthAdjust="spacingAndGlyphs">cm</text></g>
<g transform="translate(1391.4,1287.8) rotate(0)"><text x="-59.5" y="15.5" font-size="47.4" font-weight="bold" textLength="47.0" lengthAdjust="spacingAndGlyphs">23</text><text x="-11.5" y="15.5" font-size="48.3" textLength="71.0" lengthAdjust="spacingAndGlyphs">cm</text></g>
<g transform="translate(1445.0,1417.3) rotate(90)"><text x="-58.5" y="15.5" font-size="47.4" font-weight="bold" textLength="45.0" lengthAdjust="spacingAndGlyphs">34</text><text x="-12.5" y="15.5" font-size="48.3" textLength="71.0" lengthAdjust="spacingAndGlyphs">cm</text></g>
<g transform="translate(1599.7,1255.3) rotate(90)"><text x="-60.0" y="15.5" font-size="47.4" font-weight="bold" textLength="48.0" lengthAdjust="spacingAndGlyphs">49</text><text x="-11.0" y="15.5" font-size="48.3" textLength="71.0" lengthAdjust="spacingAndGlyphs">cm</text></g>
<g transform="translate(1547.0,1373.0) rotate(0)"><text x="-58.5" y="15.5" font-size="47.4" font-weight="bold" textLength="45.0" lengthAdjust="spacingAndGlyphs">42</text><text x="-12.5" y="15.5" font-size="48.3" textLength="71.0" lengthAdjust="spacingAndGlyphs">cm</text></g>
<g transform="translate(1680.7,1361.5) rotate(14)"><text x="-58.5" y="15.5" font-size="47.4" font-weight="bold" textLength="45.0" lengthAdjust="spacingAndGlyphs">29</text><text x="-12.5" y="15.5" font-size="48.3" textLength="71.0" lengthAdjust="spacingAndGlyphs">cm</text></g>
<g transform="translate(1516.5,1484.7) rotate(8)"><text x="-58.5" y="15.5" font-size="47.4" font-weight="bold" textLength="45.0" lengthAdjust="spacingAndGlyphs">28</text><text x="-12.5" y="15.5" font-size="48.3" textLength="71.0" lengthAdjust="spacingAndGlyphs">cm</text></g>
<g transform="translate(1640.0,1548.0) rotate(90)"><text x="-58.5" y="15.5" font-size="47.4" font-weight="bold" textLength="45.0" lengthAdjust="spacingAndGlyphs">56</text><text x="-12.5" y="15.5" font-size="48.3" textLength="71.0" lengthAdjust="spacingAndGlyphs">cm</text></g>
<g transform="translate(1489.2,1605.0) rotate(90)"><text x="-58.5" y="15.5" font-size="47.4" font-weight="bold" textLength="45.0" lengthAdjust="spacingAndGlyphs">37</text><text x="-12.5" y="15.5" font-size="48.3" textLength="71.0" lengthAdjust="spacingAndGlyphs">cm</text></g>
<g transform="translate(1231.0,784.0) rotate(3)"><text x="-74.0" y="15.5" font-size="47.4" font-weight="bold" textLength="76.0" lengthAdjust="spacingAndGlyphs">140</text><text x="3.0" y="15.5" font-size="48.3" textLength="71.0" lengthAdjust="spacingAndGlyphs">cm</text></g>
<g transform="translate(807.5,899.9) rotate(-90)"><text x="-63.0" y="15.5" font-size="47.4" font-weight="bold" textLength="54.0" lengthAdjust="spacingAndGlyphs">21</text><text x="-8.0" y="15.5" font-size="48.3" textLength="71.0" lengthAdjust="spacingAndGlyphs">cm</text></g>
<g transform="translate(930.5,884.0) rotate(-3)"><text x="-59.5" y="15.5" font-size="47.4" font-weight="bold" textLength="47.0" lengthAdjust="spacingAndGlyphs">13</text><text x="-11.5" y="15.5" font-size="48.3" textLength="71.0" lengthAdjust="spacingAndGlyphs">cm</text></g>
<g transform="translate(1175.0,907.0) rotate(90)"><text x="-57.0" y="15.5" font-size="47.4" font-weight="bold" textLength="42.0" lengthAdjust="spacingAndGlyphs">14</text><text x="-14.0" y="15.5" font-size="48.3" textLength="71.0" lengthAdjust="spacingAndGlyphs">cm</text></g>
<g transform="translate(886.2,1025.0) rotate(8)"><text x="-61.5" y="15.5" font-size="47.4" font-weight="bold" textLength="51.0" lengthAdjust="spacingAndGlyphs">20</text><text x="-9.5" y="15.5" font-size="48.3" textLength="71.0" lengthAdjust="spacingAndGlyphs">cm</text></g>
<g transform="translate(1847.0,110.0) rotate(-1)"><text x="-71.0" y="15.5" font-size="47.4" font-weight="bold" textLength="70.0" lengthAdjust="spacingAndGlyphs">157</text><text x="0.0" y="15.5" font-size="48.3" textLength="71.0" lengthAdjust="spacingAndGlyphs">cm</text></g>
<g transform="translate(2299.0,100.0) rotate(0)"><text x="-61.0" y="15.5" font-size="47.4" font-weight="bold" textLength="50.0" lengthAdjust="spacingAndGlyphs">40</text><text x="-10.0" y="15.5" font-size="48.3" textLength="71.0" lengthAdjust="spacingAndGlyphs">cm</text></g>
<g transform="translate(1294.0,449.0) rotate(-90)"><text x="-60.5" y="15.5" font-size="47.4" font-weight="bold" textLength="49.0" lengthAdjust="spacingAndGlyphs">82</text><text x="-10.5" y="15.5" font-size="48.3" textLength="71.0" lengthAdjust="spacingAndGlyphs">cm</text></g>
<g transform="translate(1560.0,324.7) rotate(90)"><text x="-60.0" y="15.5" font-size="47.4" font-weight="bold" textLength="48.0" lengthAdjust="spacingAndGlyphs">32</text><text x="-11.0" y="15.5" font-size="48.3" textLength="71.0" lengthAdjust="spacingAndGlyphs">cm</text></g>
<g transform="translate(1648.0,403.0) rotate(-2)"><text x="-60.0" y="15.5" font-size="47.4" font-weight="bold" textLength="48.0" lengthAdjust="spacingAndGlyphs">44</text><text x="-11.0" y="15.5" font-size="48.3" textLength="71.0" lengthAdjust="spacingAndGlyphs">cm</text></g>
<g transform="translate(1640.0,585.6) rotate(90)"><text x="-60.0" y="15.5" font-size="47.4" font-weight="bold" textLength="48.0" lengthAdjust="spacingAndGlyphs">38</text><text x="-11.0" y="15.5" font-size="48.3" textLength="71.0" lengthAdjust="spacingAndGlyphs">cm</text></g>
<g transform="translate(1535.0,687.5) rotate(-4)"><text x="-60.0" y="15.5" font-size="47.4" font-weight="bold" textLength="48.0" lengthAdjust="spacingAndGlyphs">48</text><text x="-11.0" y="15.5" font-size="48.3" textLength="71.0" lengthAdjust="spacingAndGlyphs">cm</text></g>
<g transform="translate(1884.0,287.6) rotate(-2)"><text x="-59.5" y="15.5" font-size="47.4" font-weight="bold" textLength="47.0" lengthAdjust="spacingAndGlyphs">53</text><text x="-11.5" y="15.5" font-size="48.3" textLength="71.0" lengthAdjust="spacingAndGlyphs">cm</text></g>
<g transform="translate(2034.5,271.6) rotate(90)"><text x="-58.5" y="15.5" font-size="47.4" font-weight="bold" textLength="45.0" lengthAdjust="spacingAndGlyphs">17</text><text x="-12.5" y="15.5" font-size="48.3" textLength="71.0" lengthAdjust="spacingAndGlyphs">cm</text></g>
<g transform="translate(1920.5,381.6) rotate(90)"><text x="-58.5" y="15.5" font-size="47.4" font-weight="bold" textLength="45.0" lengthAdjust="spacingAndGlyphs">17</text><text x="-12.5" y="15.5" font-size="48.3" textLength="71.0" lengthAdjust="spacingAndGlyphs">cm</text></g>
<g transform="translate(2171.0,379.5) rotate(-2)"><text x="-60.0" y="15.5" font-size="47.4" font-weight="bold" textLength="48.0" lengthAdjust="spacingAndGlyphs">44</text><text x="-11.0" y="15.5" font-size="48.3" textLength="71.0" lengthAdjust="spacingAndGlyphs">cm</text></g>
<g transform="translate(2304.0,352.0) rotate(3)"><text x="-59.5" y="15.5" font-size="47.4" font-weight="bold" textLength="47.0" lengthAdjust="spacingAndGlyphs">34</text><text x="-11.5" y="15.5" font-size="48.3" textLength="71.0" lengthAdjust="spacingAndGlyphs">cm</text></g>
<g transform="translate(2310.0,602.0) rotate(14)"><text x="-59.5" y="15.5" font-size="47.4" font-weight="bold" textLength="47.0" lengthAdjust="spacingAndGlyphs">36</text><text x="-11.5" y="15.5" font-size="48.3" textLength="71.0" lengthAdjust="spacingAndGlyphs">cm</text></g>
<g transform="translate(2040.3,929.5) rotate(-27)"><text x="-60.0" y="15.5" font-size="47.4" font-weight="bold" textLength="48.0" lengthAdjust="spacingAndGlyphs">31</text><text x="-11.0" y="15.5" font-size="48.3" textLength="71.0" lengthAdjust="spacingAndGlyphs">cm</text></g>
<g transform="translate(2298.4,962.0) rotate(30)"><text x="-60.0" y="15.5" font-size="47.4" font-weight="bold" textLength="48.0" lengthAdjust="spacingAndGlyphs">48</text><text x="-11.0" y="15.5" font-size="48.3" textLength="71.0" lengthAdjust="spacingAndGlyphs">cm</text></g>
<g transform="translate(2253.0,1061.0) rotate(90)"><text x="-49.0" y="15.5" font-size="47.4" font-weight="bold" textLength="25.0" lengthAdjust="spacingAndGlyphs">8</text><text x="-23.0" y="15.5" font-size="48.3" textLength="72.0" lengthAdjust="spacingAndGlyphs">cm</text></g>
</svg></body></html>
